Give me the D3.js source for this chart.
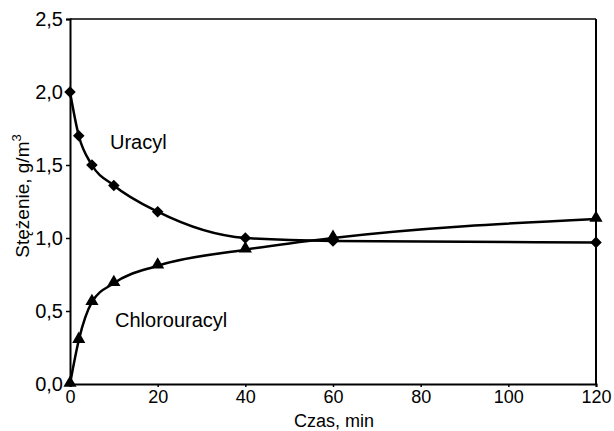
<!DOCTYPE html>
<html><head><meta charset="utf-8">
<script src="https://cdn.jsdelivr.net/npm/d3@7"></script>
<style>body{margin:0;background:#fff}svg text{font-family:"Liberation Sans",Arial,sans-serif;fill:#000}</style>
</head><body><svg width="614" height="431"></svg>
<script>
const timeMin = [0, 2, 5, 10, 20, 40, 60, 120];
const uracyl = [2.0, 1.70, 1.50, 1.36, 1.18, 1.00, 0.98, 0.97];
const chlorouracyl = [0.0, 0.30, 0.56, 0.69, 0.81, 0.92, 1.00, 1.13];
const xTicks = [0, 20, 40, 60, 80, 100, 120];
const yTicks = [0, 0.5, 1.0, 1.5, 2.0, 2.5];

const svg = d3.select("svg");
const L = 70, R = 596, T = 19, B = 384;
const x = d3.scaleLinear().domain([0, 120]).range([L, R]);
const y = d3.scaleLinear().domain([0, 2.5]).range([B, T]);
const fmt = d => d3.format(".1f")(d).replace(".", ",");

// frame
svg.append("line").attr("x1", L).attr("x2", R).attr("y1", T).attr("y2", T).attr("stroke", "#000").attr("stroke-width", 1.5);
svg.append("line").attr("x1", R).attr("x2", R).attr("y1", T).attr("y2", B).attr("stroke", "#000").attr("stroke-width", 2);

const xa = svg.append("g").attr("transform", `translate(0,${B})`)
  .call(d3.axisBottom(x).tickValues(xTicks).tickSize(3).tickPadding(3).tickFormat(d3.format("d")));
const ya = svg.append("g").attr("transform", `translate(${L},0)`)
  .call(d3.axisLeft(y).tickValues(yTicks).tickSize(4).tickPadding(3).tickFormat(fmt));
[xa, ya].forEach(a => {
  a.select(".domain").attr("stroke-width", 2);
  a.selectAll(".tick line").attr("stroke-width", 1.5);
  a.selectAll("text").style("font-family", '"Liberation Sans",Arial,sans-serif');
});
xa.selectAll("text").style("font-size", "18px");
ya.selectAll("text").style("font-size", "20px");

const line = d3.line().x((d, i) => x(timeMin[i])).y(d => y(d)).curve(d3.curveMonotoneX);
svg.append("path").datum(uracyl).attr("d", line).attr("fill", "none").attr("stroke", "#000").attr("stroke-width", 2.5);
svg.append("path").datum(chlorouracyl).attr("d", line).attr("fill", "none").attr("stroke", "#000").attr("stroke-width", 2.5);

svg.append("g").selectAll("path").data(uracyl).join("path")
  .attr("d", d3.symbol(d3.symbolDiamond2, 85))
  .attr("transform", (d, i) => `translate(${x(timeMin[i])},${y(d)})`).attr("fill", "#000");
svg.append("g").selectAll("path").data(chlorouracyl).join("path")
  .attr("d", d3.symbol(d3.symbolTriangle, 75))
  .attr("transform", (d, i) => `translate(${x(timeMin[i])},${y(d) - 1})`).attr("fill", "#000");

svg.append("text").attr("x", 110).attr("y", 149).style("font-size", "20px").text("Uracyl");
svg.append("text").attr("x", 115).attr("y", 327).style("font-size", "20px").text("Chlorouracyl");
svg.append("text").attr("x", 334).attr("y", 427).attr("text-anchor", "middle").style("font-size", "18px").text("Czas, min");
const yl = svg.append("text").attr("transform", "translate(29,196) rotate(-90)").attr("text-anchor", "middle").style("font-size", "19px");
yl.append("tspan").text("Stężenie, g/m");
yl.append("tspan").attr("dy", -8).style("font-size", "13px").text("3");
</script></body></html>
